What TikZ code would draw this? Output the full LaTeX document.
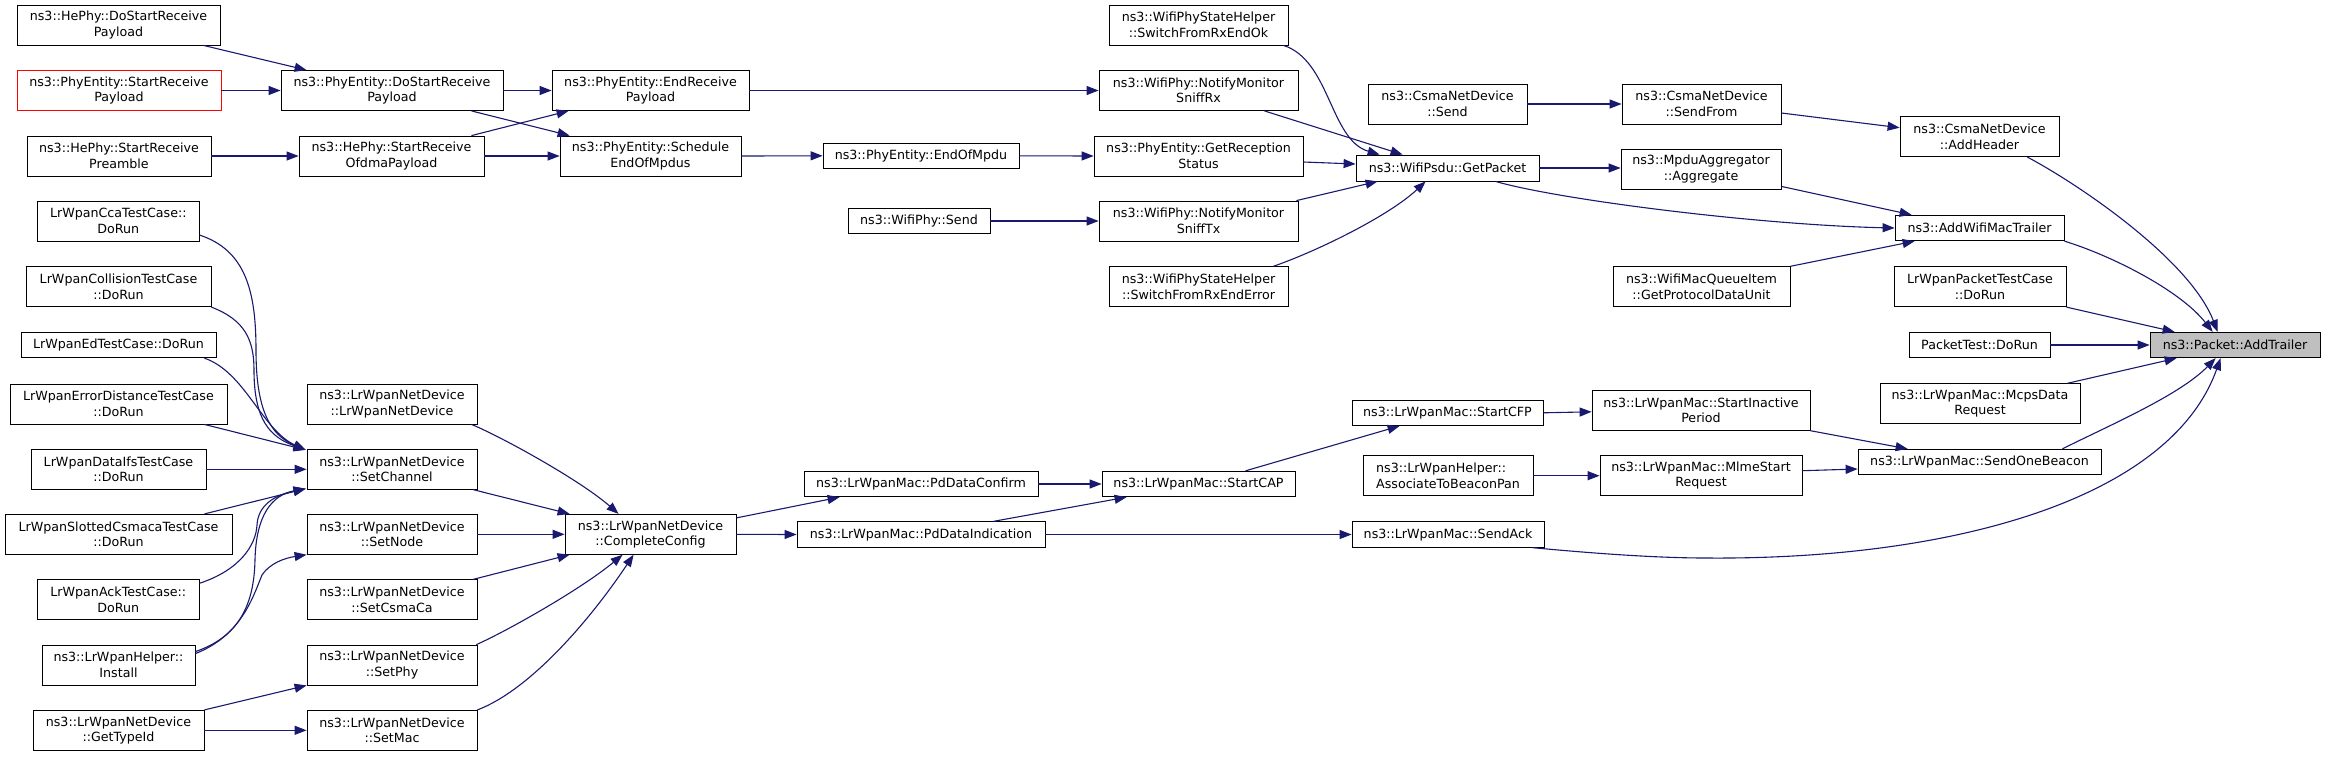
\documentclass[tikz,border=0pt]{standalone}
\usepackage{fontspec}
\setmainfont{DejaVu Sans}
\usetikzlibrary{arrows.meta,calc}
\definecolor{edgecol}{HTML}{191970}
\definecolor{rootfill}{HTML}{BFBFBF}
\begin{document}
\begin{tikzpicture}[x=1pt,y=-1pt,
  font=\fontsize{12.66}{15.5}\selectfont,
  box/.style={draw=black, fill=white, line width=0.8pt, inner sep=0pt, align=center, minimum height=40pt},
  onebox/.style={box, minimum height=25.5pt},
  edge/.style={draw=edgecol, line width=1.1pt, -{Triangle[length=12pt,width=9pt]}}]
\useasboundingbox (0,0) rectangle (2325,756);
\fill[white] (0,0) rectangle (2325,756);

% column 1
\node[box, minimum width=203pt] (n1) at (118.5,25) {ns3::HePhy::DoStartReceive\\Payload};
\node[box, draw=red, minimum width=204pt] (n2) at (119,90.5) {ns3::PhyEntity::StartReceive\\Payload};
\node[box, minimum width=184pt] (n3) at (119,156) {ns3::HePhy::StartReceive\\Preamble};
\node[box, minimum width=161.5pt] (n41) at (118.3,221) {LrWpanCcaTestCase::\\DoRun};
\node[box, minimum width=185pt] (n42) at (118.5,286.7) {LrWpanCollisionTestCase\\::DoRun};
\node[onebox, minimum width=195pt] (n43) at (118.5,345) {LrWpanEdTestCase::DoRun};
\node[box, minimum width=217pt] (n44) at (118.5,404) {LrWpanErrorDistanceTestCase\\::DoRun};
\node[box, minimum width=175pt] (n45) at (118.5,469.3) {LrWpanDataIfsTestCase\\::DoRun};
\node[box, minimum width=227pt] (n46) at (118.5,534.3) {LrWpanSlottedCsmacaTestCase\\::DoRun};
\node[box, minimum width=161.5pt] (n47) at (118.3,599.7) {LrWpanAckTestCase::\\DoRun};
\node[box, minimum width=153pt] (n48) at (118.5,665) {ns3::LrWpanHelper::\\Install};
\node[box, minimum width=171pt] (n49) at (118.5,730.3) {ns3::LrWpanNetDevice\\::GetTypeId};

% column 2
\node[box, minimum width=222pt] (n4) at (392,90.5) {ns3::PhyEntity::DoStartReceive\\Payload};
\node[box, minimum width=185pt] (n5) at (391.5,156) {ns3::HePhy::StartReceive\\OfdmaPayload};
\node[box, minimum width=170pt] (n34) at (392,404) {ns3::LrWpanNetDevice\\::LrWpanNetDevice};
\node[box, minimum width=170pt] (n35) at (392,469.3) {ns3::LrWpanNetDevice\\::SetChannel};
\node[box, minimum width=170pt] (n36) at (392,534.3) {ns3::LrWpanNetDevice\\::SetNode};
\node[box, minimum width=170pt] (n37) at (392,599.7) {ns3::LrWpanNetDevice\\::SetCsmaCa};
\node[box, minimum width=170pt] (n38) at (392,665) {ns3::LrWpanNetDevice\\::SetPhy};
\node[box, minimum width=170pt] (n39) at (392,730.3) {ns3::LrWpanNetDevice\\::SetMac};

% column 3
\node[box, minimum width=197pt] (n6) at (650.5,90.5) {ns3::PhyEntity::EndReceive\\Payload};
\node[box, minimum width=181pt] (n7) at (650.5,156) {ns3::PhyEntity::Schedule\\EndOfMpdus};
\node[box, minimum width=171pt] (n40) at (650.5,534.3) {ns3::LrWpanNetDevice\\::CompleteConfig};

% column 4
\node[onebox, minimum width=196pt] (n8) at (921,155.8) {ns3::PhyEntity::EndOfMpdu};
\node[onebox, minimum width=142pt] (nsend) at (919,221) {ns3::WifiPhy::Send};
\node[onebox, minimum width=234pt] (n30) at (921,484) {ns3::LrWpanMac::PdDataConfirm};
\node[onebox, minimum width=248pt] (n32) at (921,534.5) {ns3::LrWpanMac::PdDataIndication};

% column 5
\node[box, minimum width=179pt] (n9) at (1198.5,25) {ns3::WifiPhyStateHelper\\::SwitchFromRxEndOk};
\node[box, minimum width=199pt] (n10) at (1198.5,90.5) {ns3::WifiPhy::NotifyMonitor\\SniffRx};
\node[box, minimum width=209pt] (n12) at (1198.5,156) {ns3::PhyEntity::GetReception\\Status};
\node[box, minimum width=199pt] (n14) at (1198.5,221) {ns3::WifiPhy::NotifyMonitor\\SniffTx};
\node[box, minimum width=179pt] (n15) at (1198.5,286.7) {ns3::WifiPhyStateHelper\\::SwitchFromRxEndError};
\node[onebox, minimum width=193pt] (n31) at (1198.5,484) {ns3::LrWpanMac::StartCAP};

% column 6
\node[box, minimum width=159pt] (n11) at (1447.5,104) {ns3::CsmaNetDevice\\::Send};
\node[onebox, minimum width=183pt, minimum height=26pt] (n13) at (1447.5,168) {ns3::WifiPsdu::GetPacket};
\node[onebox, minimum width=191pt] (n28) at (1447.5,412.8) {ns3::LrWpanMac::StartCFP};
\node[box, minimum width=170pt, align=left] (n29) at (1448,475.7) {ns3::LrWpanHelper::\\AssociateToBeaconPan};
\node[onebox, minimum width=192pt] (n33) at (1448,534.5) {ns3::LrWpanMac::SendAck};

% column 7
\node[box, minimum width=159pt] (n16) at (1701.5,104) {ns3::CsmaNetDevice\\::SendFrom};
\node[box, minimum width=160pt] (n18) at (1701,169) {ns3::MpduAggregator\\::Aggregate};
\node[box, minimum width=177pt] (n20) at (1701.5,286.7) {ns3::WifiMacQueueItem\\::GetProtocolDataUnit};
\node[box, minimum width=218pt] (n25) at (1701,410.3) {ns3::LrWpanMac::StartInactive\\Period};
\node[box, minimum width=202pt] (n27) at (1701,475.7) {ns3::LrWpanMac::MlmeStart\\Request};

% column 8
\node[box, minimum width=159pt] (n17) at (1979.5,136.7) {ns3::CsmaNetDevice\\::AddHeader};
\node[onebox, minimum width=169pt] (n19) at (1979.5,228) {ns3::AddWifiMacTrailer};
\node[box, minimum width=172pt] (n21) at (1980,286.7) {LrWpanPacketTestCase\\::DoRun};
\node[onebox, minimum width=141pt] (n22) at (1979.5,345) {PacketTest::DoRun};
\node[box, minimum width=200pt] (n24) at (1980,403.7) {ns3::LrWpanMac::McpsData\\Request};
\node[onebox, minimum width=243pt] (n26) at (1979.5,462) {ns3::LrWpanMac::SendOneBeacon};

% root
\node[onebox, fill=rootfill, minimum width=170pt] (n23) at (2235,345) {ns3::Packet::AddTrailer};

% edges: PHY part
\draw[edge] ($(n1.south east)+(-17,0)$) -- ($(n4.north west)+(26,0)$);
\draw[edge] (n2.east) -- (n4.west);
\draw[edge] (n3.east) -- (n5.west);
\draw[edge] (n4.east) -- (n6.west);
\draw[edge] ($(n4.south east)+(-32,0)$) -- ($(n7.north west)+(10,0)$);
\draw[edge] ($(n5.north east)+(-13,0)$) -- ($(n6.south west)+(17,0)$);
\draw[edge] (n5.east) -- (n7.west);
\draw[edge] (n6.east) -- (n10.west);
\draw[edge] (n7.east) -- (n8.west);
\draw[edge] (n8.east) -- (n12.west);
\draw[edge] ($(n9.south east)+(-5,0)$) .. controls (1330,60) and (1330,140) .. ($(n13.north west)+(24,0)$);
\draw[edge] ($(n10.south east)+(-34,0)$) -- ($(n13.north west)+(47,0)$);
\draw[edge] ($(n12.east)+(0,6)$) -- ($(n13.west)+(0,-4)$);
\draw[edge] ($(n14.north east)+(-2,0)$) -- ($(n13.south west)+(22,0)$);
\draw[edge] ($(n15.north east)+(-15,0)$) .. controls (1320,250) and (1390,215) .. ($(n13.south west)+(70,0)$);
\draw[edge] (nsend.east) -- (n14.west);
\draw[edge] (n11.east) -- (n16.west);
\draw[edge] ($(n16.east)+(0,9)$) -- ($(n17.west)+(0,-9)$);
\draw[edge] (n13.east) -- (n13.east -| n18.west);
\draw[edge] ($(n13.south east)+(-44,0)$) .. controls (1560,200) and (1760,225) .. (n19.west);
\draw[edge] ($(n18.south east)+(0,-3)$) -- ($(n19.north west)+(17,0)$);
\draw[edge] (n20.north east) -- ($(n19.south west)+(20,0)$);
\draw[edge] ($(n17.south east)+(-32,0)$) .. controls (2080,185) and (2190,260) .. ($(n23.north west)+(68,0)$);
\draw[edge] (n19.south east) .. controls (2110,255) and (2180,290) .. ($(n23.north west)+(63,0)$);
\draw[edge] (n21.south east) -- ($(n23.north west)+(25,0)$);
\draw[edge] (n22.east) -- (n23.west);
\draw[edge] ($(n24.north east)+(-13,0)$) -- ($(n23.south west)+(27,0)$);
\draw[edge] ($(n26.north east)+(-39,0)$) .. controls (2110,425) and (2180,395) .. ($(n23.south west)+(66,0)$);
\draw[edge] ($(n33.south east)+(-12,0)$) .. controls (1600,554) and (1660,558) .. (1706,558) .. controls (1950,560) and (2170,500) .. ($(n23.south west)+(71,0)$);

% edges: MAC part
\draw[edge] (n25.south east) -- ($(n26.north west)+(50,0)$);
\draw[edge] ($(n27.east)+(0,-5)$) -- ($(n26.west)+(0,7)$);
\draw[edge] (n28.east) -- ($(n25.west)+(0,1.5)$);
\draw[edge] (n29.east) -- (n27.west);
\draw[edge] (n30.east) -- (n31.west);
\draw[edge] ($(n31.north east)+(-50,0)$) -- ($(n28.south west)+(48,0)$);
\draw[edge] ($(n32.north east)+(-52,0)$) -- ($(n31.south west)+(25,0)$);
\draw[edge] (n32.east) -- (n33.west);
\draw[edge] ($(n40.north east)+(0,4)$) -- ($(n30.south west)+(36,0)$);
\draw[edge] (n40.east) -- (n32.west);

% edges: net device part
\draw[edge] ($(n34.south east)+(-6,0)$) .. controls (500,436) and (580,480) .. ($(n40.north west)+(54,0)$);
\draw[edge] ($(n35.south east)+(-4,0)$) -- ($(n40.north west)+(5,0)$);
\draw[edge] (n36.east) -- (n40.west);
\draw[edge] ($(n37.north east)+(-4,0)$) -- ($(n40.south west)+(5,0)$);
\draw[edge] ($(n38.north east)+(-1,0)$) .. controls (505,632) and (580,590) .. ($(n40.south west)+(58,0)$);
\draw[edge] (n39.north east) .. controls (530,690) and (590,620) .. ($(n40.south west)+(69,0)$);

% edges into SetChannel
\draw[edge] ($(n41.east)+(0,14)$) .. controls (245,250) and (256,290) .. (256,350) .. controls (256,410) and (270,435) .. ($(n35.north west)+(-1,1)$);
\draw[edge] (n42.south east) .. controls (245,320) and (254,340) .. (254,370) .. controls (254,420) and (270,437) .. ($(n35.north west)+(-1,1)$);
\draw[edge] ($(n43.south east)+(-12,0)$) .. controls (245,372) and (262,430) .. ($(n35.north west)+(-1,1)$);
\draw[edge] ($(n44.south east)+(-23,0)$) -- ($(n35.north west)+(-1,1)$);
\draw[edge] (n45.east) -- (n35.west);
\draw[edge] ($(n46.north east)+(-28,0)$) -- ($(n35.south west)+(-1,-1)$);
\draw[edge] ($(n47.north east)+(0,4)$) .. controls (240,570) and (256,545) .. (257,525) .. controls (258,505) and (275,495) .. ($(n35.south west)+(-1,-1)$);
\draw[edge] ($(n48.north east)+(0,7)$) .. controls (235,638) and (254,610) .. (255,560) .. controls (256,515) and (272,495) .. ($(n35.south west)+(-1,-1)$);
\draw[edge] ($(n48.north east)+(0,9)$) .. controls (240,636) and (252,600) .. (262,575) .. controls (270,563) and (285,558) .. (n36.south west);
\draw[edge] (n49.north east) -- (n38.south west);
\draw[edge] (n49.east) -- (n39.west);
\end{tikzpicture}
\end{document}
